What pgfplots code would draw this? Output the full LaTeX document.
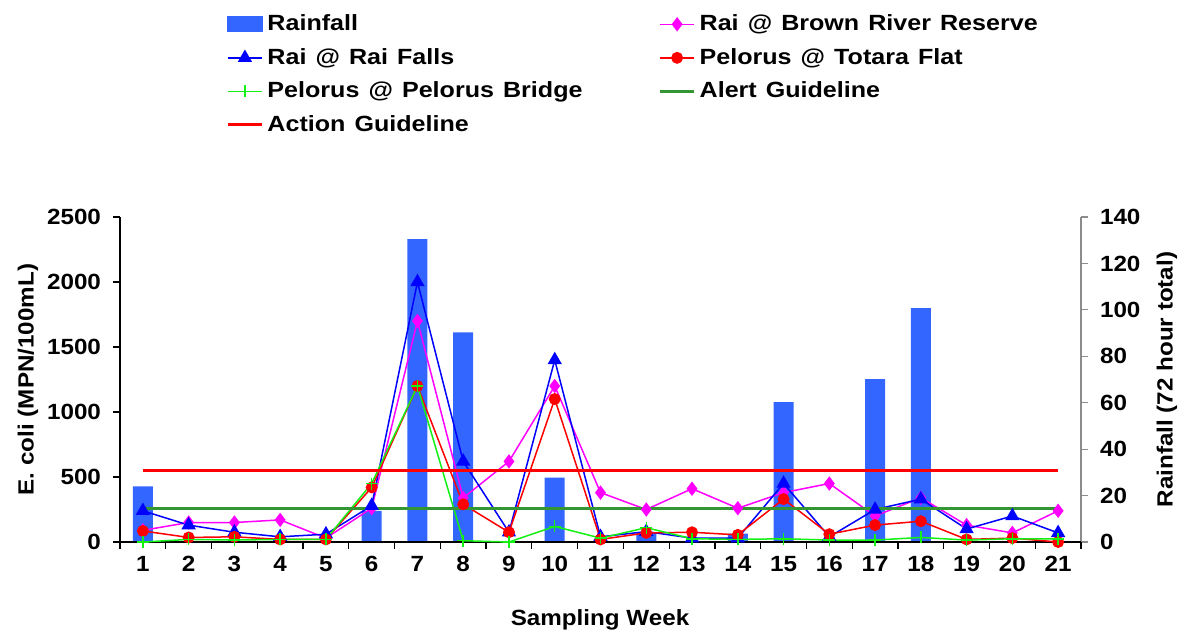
\documentclass[border=0pt]{standalone}
\usepackage{fontspec}
\setmainfont{Liberation Sans}[FakeStretch=1.1]
\newfontfamily\legfont{Liberation Sans}[FakeStretch=1.14, WordSpace=1.3]
\usepackage{pgfplots}
\pgfplotsset{compat=1.18}

\definecolor{rainblue}{RGB}{51,102,255}
\definecolor{alertgreen}{RGB}{51,150,51}
\definecolor{bridgegreen}{RGB}{20,240,20}
\definecolor{brownmag}{RGB}{255,0,255}
\definecolor{fallsblue}{RGB}{0,0,255}
\definecolor{totred}{RGB}{255,0,0}

\begin{document}
\begin{tikzpicture}[font=\fontsize{11}{13.2}\selectfont\bfseries]
\pgfplotsset{
  base/.style={
    scale only axis, width=480.5pt, height=162.5pt,
    at={(0,0)}, anchor=south west,
    xmin=0.5, xmax=21.5,
    /pgf/number format/assume math mode=true,
    /pgf/number format/1000 sep={},
    tick align=outside,
    major tick length=3.5pt,
    minor tick length=3.5pt,
    every tick/.style={line width=0.6pt},
  }
}
% Rainfall bars on the right-hand axis
\begin{axis}[base,
  axis y line*=right, axis x line=none,
  ymin=0, ymax=140, ytick={0,20,...,140},
  y axis line style={gray!90, line width=0.6pt},
  ytick style={gray!90},
  yticklabel style={anchor=west, xshift=2.5pt},
  ylabel={Rainfall (72 hour total)},
  ylabel style={at={(axis description cs:1.0895,0.5)}, anchor=center, rotate=0},
]
\addplot[ybar, bar width=10pt, fill=rainblue, draw=none] coordinates {
  (1,24) (6,13.4) (7,130.5) (8,90.3) (10,27.7) (12,3.9) (14,3.6)
  (15,60.3) (17,70.2) (18,100.7)
};
\end{axis}
% E. coli counts on the left-hand axis
\begin{axis}[base,
  axis y line*=left, axis x line*=bottom,
  axis line style={line width=0.6pt},
  ymin=0, ymax=2500, ytick={0,500,...,2500},
  yticklabel style={xshift=-2.5pt},
  xtick={1,...,21}, major x tick style={draw=none},
  minor xtick={0.5,1.5,...,21.5},
  xlabel={Sampling Week},
  xlabel style={at={(axis description cs:0.4995,-0.24)}, anchor=center},
  ylabel={E. coli (MPN/100mL)},
  ylabel style={at={(axis description cs:-0.0957,0.5)}, anchor=center},
  legend columns=2,
  legend cell align=left,
  legend style={at={(axis description cs:0.104,1.648)}, anchor=north west,
    draw=none, fill=none, row sep=3.3pt,
    font=\fontsize{11}{13.2}\legfont\bfseries,
    /tikz/every even column/.append style={column sep=36pt}},
]
\addlegendimage{legend image code/.code={\fill[rainblue] (0cm,-3.75pt) rectangle (0.6cm,3.75pt);}}
\addlegendentry{Rainfall}
\addplot[brownmag, line width=0.75pt, mark=diamond*, mark size=3pt] coordinates {
  (1,90) (2,150) (3,150) (4,170) (5,30) (6,260) (7,1700) (8,340) (9,620)
  (10,1200) (11,380) (12,250) (13,410) (14,260) (15,380) (16,450) (17,200)
  (18,340) (19,130) (20,70) (21,240)
};
\addlegendentry{Rai @ Brown River Reserve}
\addplot[fallsblue, line width=0.75pt, mark=triangle*, mark size=3.4pt] coordinates {
  (1,240) (2,130) (3,75) (4,40) (5,60) (6,280) (7,2000) (8,620) (9,75)
  (10,1400) (11,40) (12,80) (13,30) (14,30) (15,450) (16,40) (17,250)
  (18,330) (19,100) (20,200) (21,70)
};
\addlegendentry{Rai @ Rai Falls}
\addplot[totred, line width=0.75pt, mark=*, mark size=2.6pt] coordinates {
  (1,85) (2,35) (3,40) (4,20) (5,20) (6,420) (7,1200) (8,290) (9,75)
  (10,1100) (11,20) (12,70) (13,75) (14,55) (15,330) (16,60) (17,130)
  (18,160) (19,20) (20,30) (21,0)
};
\addlegendentry{Pelorus @ Totara Flat}
\addplot[bridgegreen, line width=0.75pt, mark=+, mark size=3pt] coordinates {
  (1,0) (2,20) (3,15) (4,20) (5,20) (6,450) (7,1200) (8,10) (9,0)
  (10,120) (11,30) (12,110) (13,25) (14,20) (15,25) (16,15) (17,15)
  (18,35) (19,15) (20,25) (21,25)
};
\addlegendentry{Pelorus @ Pelorus Bridge}
\addplot[alertgreen, line width=1.5pt] coordinates {(1,260) (21,260)};
\addlegendentry{Alert Guideline}
\addplot[totred, line width=1.5pt] coordinates {(1,550) (21,550)};
\addlegendentry{Action Guideline}
\end{axis}
\pgfresetboundingbox
\path[use as bounding box] (-60pt,-46pt) rectangle (531.5pt,271pt);
\end{tikzpicture}
\end{document}
